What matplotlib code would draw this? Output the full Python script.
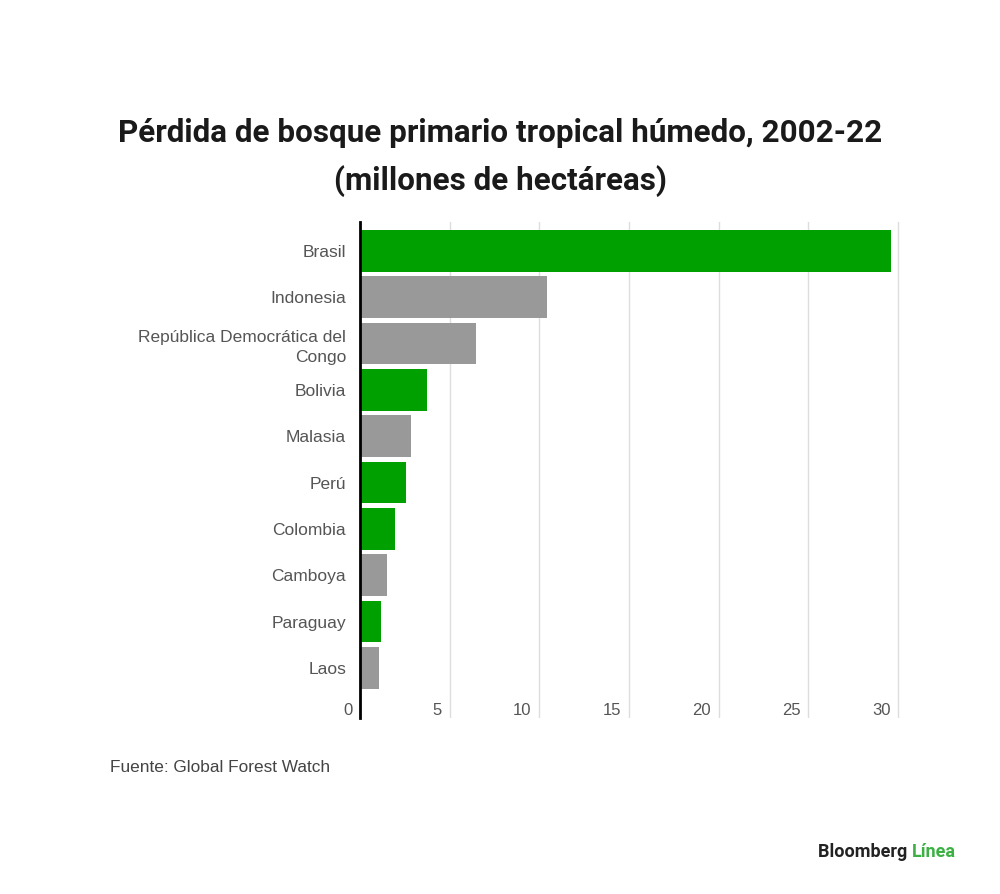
import matplotlib
matplotlib.use('Agg')
import matplotlib.pyplot as plt
import matplotlib.transforms as mtransforms

plt.rcParams['font.family'] = ['Liberation Sans', 'DejaVu Sans']

# Datos (millones de hectáreas)
countries = ['Brasil', 'Indonesia', 'República Democrática del\nCongo', 'Bolivia',
             'Malasia', 'Perú', 'Colombia', 'Camboya', 'Paraguay', 'Laos']
loss = [29.6, 10.4, 6.45, 3.74, 2.84, 2.55, 1.97, 1.49, 1.15, 1.06]
is_latam = [True, False, False, True, False, True, True, False, True, False]
xticks = [0, 5, 10, 15, 20, 25, 30]

green = '#00a000'
grey = '#999999'
colors = [green if g else grey for g in is_latam]

fig = plt.figure(figsize=(10, 8.94), dpi=100)
ax = fig.add_axes([0.36, 0.197, 0.5416, 0.555])

pos = list(range(len(countries)))
ax.barh(pos, loss, height=0.9, color=colors, zorder=2)

ax.set_ylim(len(countries) - 1 + 1.08, -0.63)
ax.set_xlim(0, 30.2)
ax.set_yticks(pos)
ax.set_yticklabels(countries, fontsize=12.5, color='#555555', ha='right',
                   linespacing=1.4)
ax.tick_params(axis='y', length=0, pad=10)

ax.set_xticks(xticks)
ax.set_xticklabels([str(t) for t in xticks], fontsize=12, color='#555555')
ax.tick_params(axis='x', length=0, pad=-11)
offset = mtransforms.ScaledTranslation(-5.5 / 72, 0, fig.dpi_scale_trans)
for lbl in ax.get_xticklabels():
    lbl.set_ha('right')
    lbl.set_transform(lbl.get_transform() + offset)

ax.grid(axis='x', color='#dddddd', linewidth=1, zorder=0)
for s in ['top', 'right', 'bottom']:
    ax.spines[s].set_visible(False)
ax.spines['left'].set_linewidth(2)
ax.spines['left'].set_color('black')
ax.spines['left'].set_zorder(3)

fig.text(0.5, 0.851, 'Pérdida de bosque primario tropical húmedo, 2002-22',
         ha='center', va='center', fontsize=22.6, fontweight='bold', color='#1a1a1a',
         family=['Roboto', 'DejaVu Sans'])
fig.text(0.5, 0.798, '(millones de hectáreas)',
         ha='center', va='center', fontsize=22.6, fontweight='bold', color='#1a1a1a',
         family=['Roboto', 'DejaVu Sans'])

fig.text(0.11, 0.141, 'Fuente: Global Forest Watch', ha='left', va='center',
         fontsize=12.4, color='#444444')

t1 = fig.text(0.818, 0.047, 'Bloomberg ', ha='left', va='center',
              fontsize=13, fontweight='bold', color='#222222',
              family=['Roboto', 'DejaVu Sans'])
fig.canvas.draw()
bb = t1.get_window_extent()
fig.text(bb.x1 / fig.bbox.width, 0.047, 'Línea', ha='left', va='center',
         fontsize=13, fontweight='bold', color='#3cb043',
         family=['Roboto', 'DejaVu Sans'])

fig.savefig('out.png', dpi=100, facecolor='white')
